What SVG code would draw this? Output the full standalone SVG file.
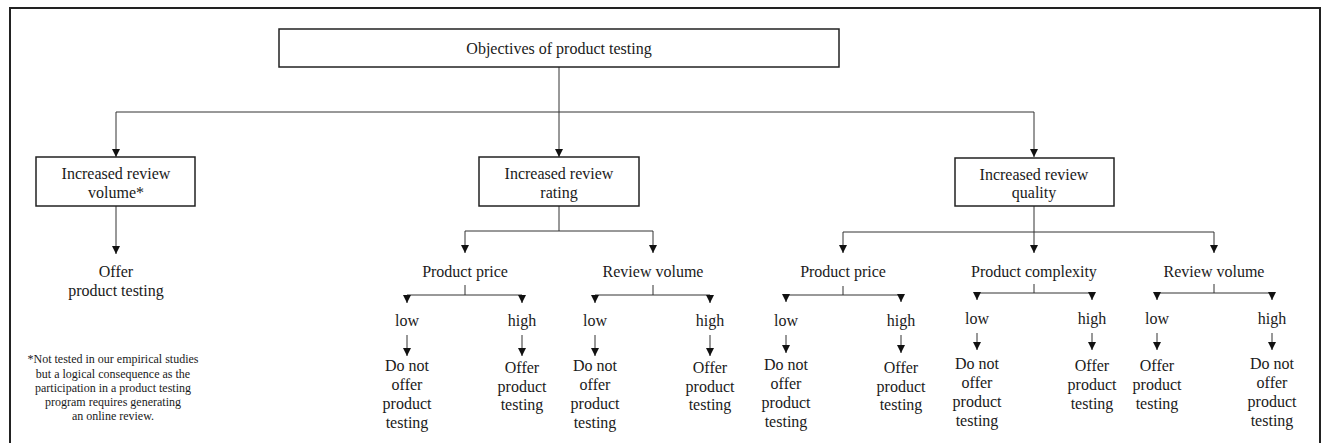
<svg xmlns="http://www.w3.org/2000/svg" width="1322" height="443" viewBox="0 0 1322 443">
<style>
.t{font-family:"Liberation Serif","Times New Roman",serif;font-size:16px;fill:#1a1a1a;text-anchor:middle;dominant-baseline:central}
.f{font-family:"Liberation Serif","Times New Roman",serif;font-size:12px;fill:#1a1a1a;text-anchor:middle;dominant-baseline:central}
.box{fill:#fff;stroke:#222;stroke-width:1.5}
.c{fill:none;stroke:#333;stroke-width:1}
.a{marker-end:url(#ah)}
</style>
<defs>
<marker id="ah" markerUnits="userSpaceOnUse" markerWidth="8" markerHeight="8" viewBox="0 0 8 8" refX="8" refY="4" orient="auto">
<path d="M0,0 L8,4 L0,8 z" fill="#111"/>
</marker>
</defs>
<rect x="0" y="0" width="1322" height="443" fill="#fff"/>
<rect x="10" y="8" width="1310" height="445" fill="none" stroke="#222" stroke-width="2"/>

<g id="connectors">
<path class="c" d="M559,67 V112"/>
<path class="c a" d="M559,112 H116 V157"/>
<path class="c a" d="M559,112 V157"/>
<path class="c a" d="M559,112 H1034 V157"/>
<path class="c a" d="M116,206 V254"/>
<path class="c a" d="M559,206 V231 H465 V253"/>
<path class="c a" d="M559,231 H653 V253"/>
<path class="c a" d="M465,285 V295 H407 V303"/>
<path class="c a" d="M465,295 H522 V303"/>
<path class="c a" d="M653,285 V295 H595 V303"/>
<path class="c a" d="M653,295 H710 V303"/>
<path class="c a" d="M407,335 V356"/>
<path class="c a" d="M522,335 V356"/>
<path class="c a" d="M595,335 V356"/>
<path class="c a" d="M710,335 V356"/>
<path class="c a" d="M1034,206 V232 H843 V253"/>
<path class="c a" d="M1034,232 V253"/>
<path class="c a" d="M1034,232 H1214 V253"/>
<path class="c a" d="M843,286 V295 H786 V302"/>
<path class="c a" d="M843,295 H901 V302"/>
<path class="c a" d="M1034,284 V293 H977 V300"/>
<path class="c a" d="M1034,293 H1092 V300"/>
<path class="c a" d="M1214,284 V293 H1157 V300"/>
<path class="c a" d="M1214,293 H1272 V300"/>
<path class="c a" d="M786,335 V353"/>
<path class="c a" d="M901,335 V353"/>
<path class="c a" d="M977,333 V350"/>
<path class="c a" d="M1092,333 V350"/>
<path class="c a" d="M1157,333 V350"/>
<path class="c a" d="M1272,333 V350"/>
</g>

<g id="root"><rect class="box" x="279" y="29" width="560" height="38"/><text class="t" x="559" y="48">Objectives of product testing</text></g>

<g id="volume"><rect class="box" x="36" y="157" width="159" height="49"/><text class="t" x="116" y="173">Increased review</text><text class="t" x="116" y="192">volume*</text></g>
<g id="rating"><rect class="box" x="479" y="157" width="160" height="49"/><text class="t" x="559" y="173">Increased review</text><text class="t" x="559" y="192">rating</text></g>
<g id="quality"><rect class="box" x="955" y="158" width="159" height="48"/><text class="t" x="1034" y="174">Increased review</text><text class="t" x="1034" y="192">quality</text></g>

<g id="vol-offer"><text class="t" x="116" y="271">Offer</text><text class="t" x="116" y="290">product testing</text></g>
<g id="footnote"><text class="f" x="113" y="359">*Not tested in our empirical studies</text><text class="f" x="113" y="374">but a logical consequence as the</text><text class="f" x="113" y="388">participation in a product testing</text><text class="f" x="113" y="402">program requires generating</text><text class="f" x="113" y="416">an online review.</text></g>

<g id="rat-price"><text class="t" x="465" y="271">Product price</text></g>
<g id="rat-volume"><text class="t" x="653" y="271">Review volume</text></g>
<g id="rat-price-low"><text class="t" x="407" y="320">low</text></g>
<g id="rat-price-high"><text class="t" x="522" y="320">high</text></g>
<g id="rat-volume-low"><text class="t" x="595" y="320">low</text></g>
<g id="rat-volume-high"><text class="t" x="710" y="320">high</text></g>
<g id="rat-price-low-r"><text class="t" x="407" y="365">Do not</text><text class="t" x="407" y="384">offer</text><text class="t" x="407" y="403">product</text><text class="t" x="407" y="422">testing</text></g>
<g id="rat-price-high-r"><text class="t" x="522" y="367">Offer</text><text class="t" x="522" y="386">product</text><text class="t" x="522" y="404">testing</text></g>
<g id="rat-volume-low-r"><text class="t" x="595" y="365">Do not</text><text class="t" x="595" y="384">offer</text><text class="t" x="595" y="403">product</text><text class="t" x="595" y="422">testing</text></g>
<g id="rat-volume-high-r"><text class="t" x="710" y="367">Offer</text><text class="t" x="710" y="386">product</text><text class="t" x="710" y="404">testing</text></g>

<g id="q-price"><text class="t" x="843" y="271">Product price</text></g>
<g id="q-complexity"><text class="t" x="1034" y="271">Product complexity</text></g>
<g id="q-volume"><text class="t" x="1214" y="271">Review volume</text></g>
<g id="q-price-low"><text class="t" x="786" y="320">low</text></g>
<g id="q-price-high"><text class="t" x="901" y="320">high</text></g>
<g id="q-complexity-low"><text class="t" x="977" y="318">low</text></g>
<g id="q-complexity-high"><text class="t" x="1092" y="318">high</text></g>
<g id="q-volume-low"><text class="t" x="1157" y="318">low</text></g>
<g id="q-volume-high"><text class="t" x="1272" y="318">high</text></g>
<g id="q-price-low-r"><text class="t" x="786" y="364">Do not</text><text class="t" x="786" y="383">offer</text><text class="t" x="786" y="402">product</text><text class="t" x="786" y="421">testing</text></g>
<g id="q-price-high-r"><text class="t" x="901" y="367">Offer</text><text class="t" x="901" y="386">product</text><text class="t" x="901" y="404">testing</text></g>
<g id="q-complexity-low-r"><text class="t" x="977" y="363">Do not</text><text class="t" x="977" y="382">offer</text><text class="t" x="977" y="401">product</text><text class="t" x="977" y="420">testing</text></g>
<g id="q-complexity-high-r"><text class="t" x="1092" y="365">Offer</text><text class="t" x="1092" y="384">product</text><text class="t" x="1092" y="403">testing</text></g>
<g id="q-volume-low-r"><text class="t" x="1157" y="365">Offer</text><text class="t" x="1157" y="384">product</text><text class="t" x="1157" y="403">testing</text></g>
<g id="q-volume-high-r"><text class="t" x="1272" y="363">Do not</text><text class="t" x="1272" y="382">offer</text><text class="t" x="1272" y="401">product</text><text class="t" x="1272" y="420">testing</text></g>
</svg>
